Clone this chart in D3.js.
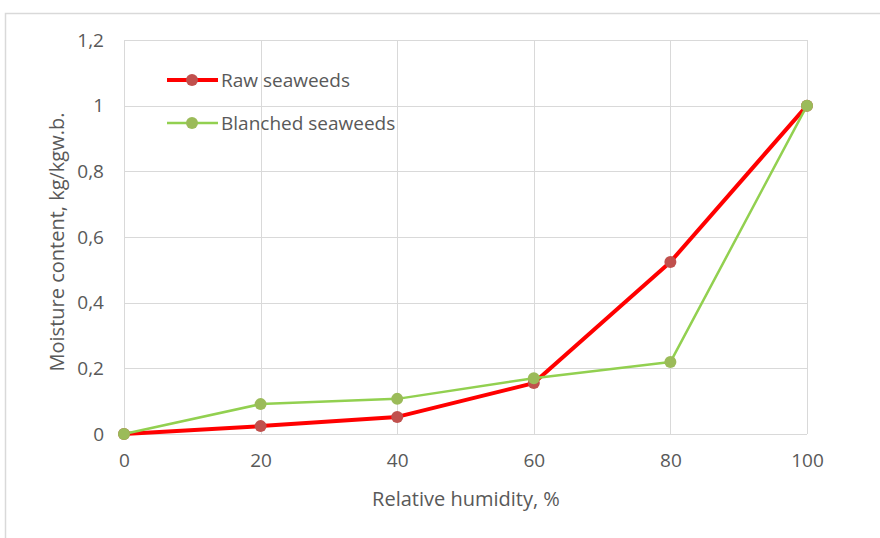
<!DOCTYPE html>
<html><head><meta charset="utf-8">
<script src="https://cdn.jsdelivr.net/npm/d3@7"></script>
<style>body{margin:0;background:#fff}svg{display:block}text{font-family:"Open Sans",sans-serif;fill:#595959}</style>
</head><body>
<script>
const humidity = [0, 20, 40, 60, 80, 100];
const rawSeaweeds = [0, 0.024, 0.052, 0.155, 0.524, 1.0];
const blanchedSeaweeds = [0, 0.091, 0.107, 0.17, 0.219, 1.0];
const seriesNames = ["Raw seaweeds", "Blanched seaweeds"];
const xTicks = [0, 20, 40, 60, 80, 100];
const yTicks = [0, 0.2, 0.4, 0.6, 0.8, 1.0, 1.2];
const xTitle = "Relative humidity, %";
const yTitle = "Moisture content, kg/kgw.b.";

const W = 880, H = 538;
const svg = d3.select("body").append("svg").attr("width", W).attr("height", H);
// outer chart border
svg.append("rect").attr("x", 5.5).attr("y", 13.5).attr("width", 900).attr("height", 600)
  .attr("fill", "none").attr("stroke", "#d9d9d9").attr("stroke-width", 1.5);

const x = d3.scaleLinear().domain([0, 100]).range([124, 807]);
const y = d3.scaleLinear().domain([0, 1.2]).range([434, 40]);

const fmt = d => d === 0 ? "0" : (Number.isInteger(d) ? String(d) : String(d).replace(".", ","));

// grid
svg.append("g").selectAll("line").data(yTicks).join("line")
  .attr("x1", x(0)).attr("x2", x(100)).attr("y1", d => Math.round(y(d)) + 0.5).attr("y2", d => Math.round(y(d)) + 0.5)
  .attr("stroke", "#d9d9d9").attr("stroke-width", 1);
svg.append("g").selectAll("line").data(xTicks).join("line")
  .attr("y1", y(0)).attr("y2", y(1.2)).attr("x1", d => Math.round(x(d)) + 0.5).attr("x2", d => Math.round(x(d)) + 0.5)
  .attr("stroke", "#d9d9d9").attr("stroke-width", 1);

// axes (labels only via d3 axis)
const xAxis = svg.append("g").attr("transform", `translate(0,${y(0)})`)
  .call(d3.axisBottom(x).tickValues(xTicks).tickSize(0).tickPadding(20).tickFormat(fmt));
const yAxis = svg.append("g").attr("transform", `translate(${x(0)},0)`)
  .call(d3.axisLeft(y).tickValues(yTicks).tickSize(0).tickPadding(20).tickFormat(fmt));
[xAxis, yAxis].forEach(a => {
  a.select(".domain").remove();
  a.selectAll("text").attr("font-size", 19).attr("fill", "#595959").attr("font-family", "Open Sans, sans-serif");
});

// titles
svg.append("text").attr("x", 466).attr("y", 506).attr("text-anchor", "middle").attr("font-size", 20).text(xTitle);
svg.append("text").attr("transform", `translate(64,242) rotate(-90)`).attr("text-anchor", "middle").attr("font-size", 20).text(yTitle);

const series = [
  {name: seriesNames[0], values: rawSeaweeds, line: "#ff0000", width: 4, marker: "#c0504d"},
  {name: seriesNames[1], values: blanchedSeaweeds, line: "#92d050", width: 2.5, marker: "#9bbb59"}
];
const line = d3.line().x((d, i) => x(humidity[i])).y(d => y(d));
series.forEach(s => {
  svg.append("path").datum(s.values).attr("d", line).attr("fill", "none")
    .attr("stroke", s.line).attr("stroke-width", s.width).attr("stroke-linejoin", "round");
});
series.forEach(s => {
  svg.append("g").selectAll("circle").data(s.values).join("circle")
    .attr("cx", (d, i) => x(humidity[i])).attr("cy", d => y(d)).attr("r", 6).attr("fill", s.marker);
});

// legend
const leg = svg.append("g");
series.forEach((s, i) => {
  const ly = 80 + i * 43;
  leg.append("line").attr("x1", 167).attr("x2", 218).attr("y1", ly).attr("y2", ly)
    .attr("stroke", s.line).attr("stroke-width", s.width);
  leg.append("circle").attr("cx", 192).attr("cy", ly).attr("r", 6).attr("fill", s.marker);
  leg.append("text").attr("x", 221).attr("y", ly + 7).attr("font-size", 19).text(s.name);
});
</script>
</body></html>
